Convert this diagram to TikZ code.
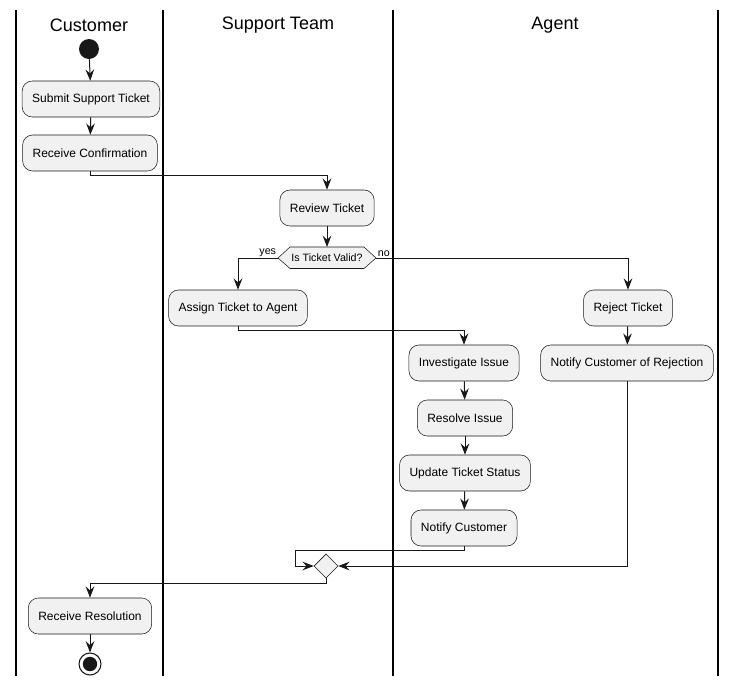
\documentclass[tikz,border=0pt]{standalone}
\usepackage{fontspec}
\setmainfont{Liberation Sans}
\usetikzlibrary{arrows.meta,shapes.geometric,calc}
\definecolor{boxgray}{HTML}{F1F1F1}
\definecolor{ink}{HTML}{181818}
\begin{document}
\begin{tikzpicture}[x=0.75pt,y=-0.75pt,
  act/.style={draw=ink,fill=boxgray,rounded corners=7.5pt,line width=0.4pt,
    minimum height=27pt,inner xsep=7.5pt,font=\fontsize{9}{11}\selectfont},
  flow/.style={draw=ink,line width=0.75pt,-{Stealth[length=8.5pt,width=6.5pt,inset=3pt]}},
  lane/.style={line width=1.1pt,draw=black},
  lanetitle/.style={font=\fontsize{13.5}{16}\selectfont},
  guard/.style={font=\fontsize{8}{9}\selectfont,inner sep=0.5pt}]
\useasboundingbox (0,0) rectangle (735,686);
% swimlanes
\draw[lane] (16,10) -- (16,676);
\draw[lane] (163,10) -- (163,676);
\draw[lane] (393,10) -- (393,676);
\draw[lane] (718,10) -- (718,676);
\node[lanetitle] (t1) at (89,25) {Customer};
\node[lanetitle] (t2) at (278,25) {Support Team};
\node[lanetitle] (t3) at (555,25) {Agent};
% nodes
\node[circle,fill=ink,minimum size=15pt,inner sep=0] (start) at (89,49) {};
\node[act] (submit) at (91,99) {Submit Support Ticket};
\node[act] (confirm) at (90,153) {Receive Confirmation};
\node[act] (review) at (327,208) {Review Ticket};
\draw[draw=ink,fill=boxgray,line width=0.4pt] (278,258) -- (290,247) -- (364,247) -- (376,258) -- (364,268.5) -- (290,268.5) -- cycle;
\node[font=\fontsize{8}{9}\selectfont,inner sep=0] (dec) at (327,258) {Is Ticket Valid?};
\coordinate (decW) at (278,258);
\coordinate (decE) at (376,258);
\coordinate (decN) at (327,247);
\node[act] (assign) at (238,308) {Assign Ticket to Agent};
\node[act] (reject) at (628,308) {Reject Ticket};
\node[act] (notifyrej) at (627,363) {Notify Customer of Rejection};
\node[act] (invest) at (464,363) {Investigate Issue};
\node[act] (resolve) at (465,418) {Resolve Issue};
\node[act] (update) at (465,473) {Update Ticket Status};
\node[act] (notify) at (464,528) {Notify Customer};
\node[diamond,draw=ink,fill=boxgray,line width=0.4pt,minimum width=18pt,minimum height=18pt,inner sep=0] (merge) at (326,566) {};
\node[act] (resolution) at (90,616) {Receive Resolution};
\node[circle,draw=ink,fill=white,line width=0.8pt,minimum size=16.5pt,inner sep=0] (end) at (90,664) {};
\fill[ink] (end.center) circle (5.4pt);
% labels
\node[guard,anchor=south east] (yes) at (277,258) {yes};
\node[guard,anchor=south west] (no) at (377,258) {no};
% connectors
\draw[flow] (start) -- (submit);
\draw[flow] (submit) -- (confirm);
\draw[flow] (confirm.south) -- ++(0,4) -| (review.north);
\draw[flow] (review) -- (decN);
\draw[flow] (decW) -| (assign.north);
\draw[flow] (decE) -| (reject.north);
\draw[flow] (assign.south) -- ++(0,4) -| (invest.north);
\draw[flow] (reject) -- (notifyrej);
\draw[flow] (invest) -- (resolve);
\draw[flow] (resolve) -- (update);
\draw[flow] (update) -- (notify);
\draw[flow] (notify.south) -- ++(0,4) -| ($(merge.west)+(-18,0)$) -- (merge.west);
\draw[flow] (notifyrej.south) |- (merge.east);
\draw[flow] (merge.south) -- ++(0,5) -| (resolution.north);
\draw[flow] (resolution) -- (end);
\end{tikzpicture}
\end{document}
